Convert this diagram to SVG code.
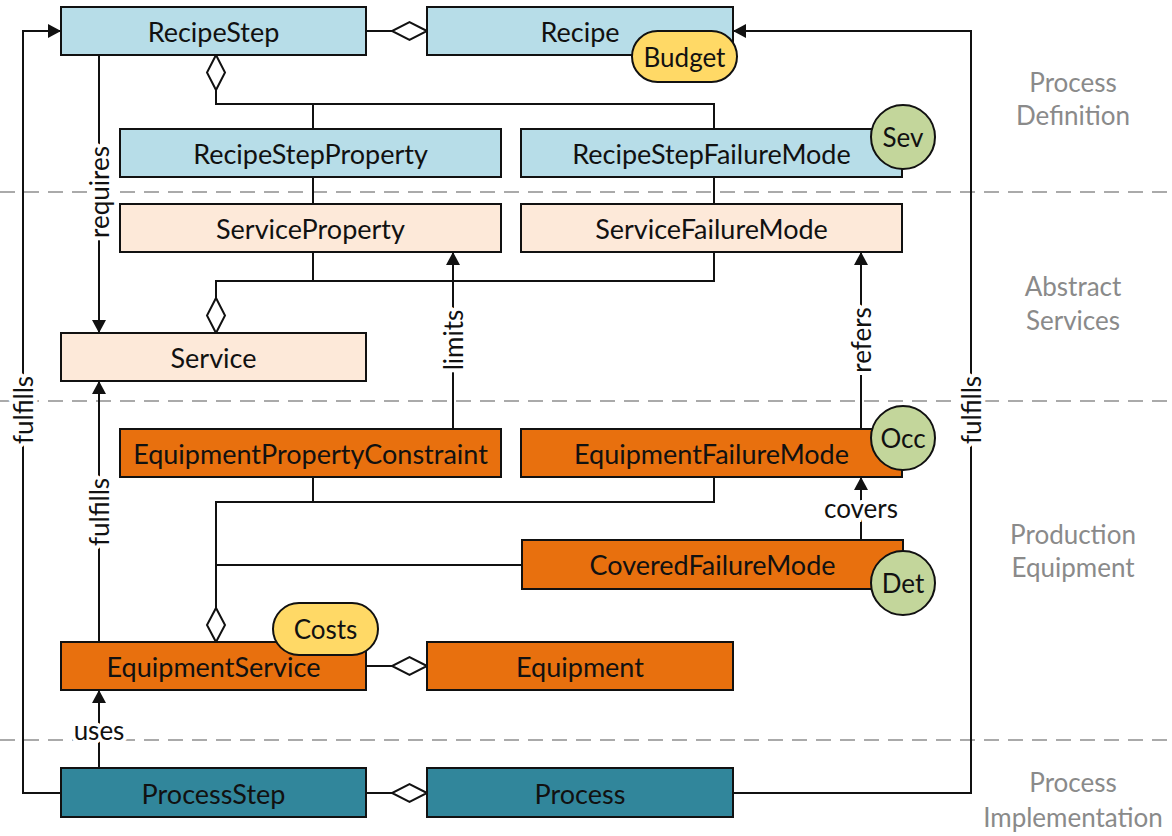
<svg xmlns="http://www.w3.org/2000/svg" width="1172" height="836" viewBox="0 0 1172 836">
<style>
  text { font-family: Lato, "Liberation Sans", sans-serif; font-size: 26px; fill: #111; text-anchor: middle; dominant-baseline: central; }
  .n { font-size: 27px; }
  .box { stroke: #111; stroke-width: 2; }
  .pd { fill: #b7dde8; }
  .as { fill: #fde9d9; }
  .pe { fill: #e8700e; }
  .pi { fill: #31869b; }
  .badge { fill: #c3d69b; stroke: #111; stroke-width: 2; }
  .pill { fill: #ffd966; stroke: #111; stroke-width: 2; }
  .ln { fill: none; stroke: #111; stroke-width: 2; }
  .dia { fill: #fff; stroke: #111; stroke-width: 2; }
  .lbl { stroke: #fff; stroke-width: 8; paint-order: stroke; }
  .lane { stroke: #aaa; stroke-width: 2; stroke-dasharray: 15 9; }
  .lanetxt { fill: #8a8a8a; }
</style>
<defs>
  <marker id="arr" markerUnits="userSpaceOnUse" markerWidth="14" markerHeight="14" refX="13" refY="7" orient="auto">
    <path d="M0,0 L13,7 L0,14 Z" fill="#111"/>
  </marker>
</defs>
<rect width="1172" height="836" fill="#fff"/>

<g id="lanes">
  <line class="lane" x1="0" y1="192" x2="1172" y2="192"/>
  <line class="lane" x1="0" y1="401" x2="1172" y2="401"/>
  <line class="lane" x1="0" y1="740" x2="1172" y2="740"/>
  <text class="lanetxt" x="1073" y="82">Process</text>
  <text class="lanetxt" x="1073" y="115">Definition</text>
  <text class="lanetxt" x="1073" y="286">Abstract</text>
  <text class="lanetxt" x="1073" y="320">Services</text>
  <text class="lanetxt" x="1073" y="534">Production</text>
  <text class="lanetxt" x="1073" y="567">Equipment</text>
  <text class="lanetxt" x="1073" y="782">Process</text>
  <text class="lanetxt" x="1073" y="817">Implementation</text>
</g>

<g id="connectors">
  <line class="ln" x1="366" y1="31" x2="392" y2="31"/>
  <path class="dia" d="M427,31 L409.5,22 L392,31 L409.5,40 Z"/>
  <polyline class="ln" points="216,90 216,104 714,104 714,203"/>
  <line class="ln" x1="313" y1="104" x2="313" y2="203"/>
  <path class="dia" d="M216,55 L225,72.5 L216,90 L207,72.5 Z"/>
  <polyline class="ln" points="216,298 216,281 714,281 714,252"/>
  <line class="ln" x1="313" y1="252" x2="313" y2="281"/>
  <path class="dia" d="M216,333 L225,315.5 L216,298 L207,315.5 Z"/>
  <line class="ln" x1="99" y1="55" x2="99" y2="333" marker-end="url(#arr)"/>
  <text class="lbl" transform="translate(99,192) rotate(-90)">requires</text>
  <line class="ln" x1="99" y1="642" x2="99" y2="381" marker-end="url(#arr)"/>
  <text class="lbl" transform="translate(99,512) rotate(-90)">fulfills</text>
  <line class="ln" x1="453" y1="429" x2="453" y2="252" marker-end="url(#arr)"/>
  <text class="lbl" transform="translate(453,340) rotate(-90)">limits</text>
  <line class="ln" x1="861" y1="429" x2="861" y2="252" marker-end="url(#arr)"/>
  <text class="lbl" transform="translate(861,340) rotate(-90)">refers</text>
  <polyline class="ln" points="61,793 23,793 23,31 61,31" marker-end="url(#arr)"/>
  <text class="lbl" transform="translate(23,410) rotate(-90)">fulfills</text>
  <polyline class="ln" points="733,793 971,793 971,31 733,31" marker-end="url(#arr)"/>
  <text class="lbl" transform="translate(971,410) rotate(-90)">fulfills</text>
  <polyline class="ln" points="216,608 216,502 714,502 714,477"/>
  <line class="ln" x1="313" y1="477" x2="313" y2="502"/>
  <line class="ln" x1="216" y1="565" x2="522" y2="565"/>
  <path class="dia" d="M216,642 L225,625 L216,608 L207,625 Z"/>
  <line class="ln" x1="861" y1="540" x2="861" y2="477" marker-end="url(#arr)"/>
  <text class="lbl" x="861" y="508">covers</text>
  <line class="ln" x1="366" y1="666" x2="392" y2="666"/>
  <path class="dia" d="M427,666 L409.5,657 L392,666 L409.5,675 Z"/>
  <line class="ln" x1="99" y1="768" x2="99" y2="690" marker-end="url(#arr)"/>
  <text class="lbl" x="99" y="730">uses</text>
  <line class="ln" x1="366" y1="793" x2="392" y2="793"/>
  <path class="dia" d="M427,793 L409.5,784 L392,793 L409.5,802 Z"/>
</g>

<g id="RecipeStep"><rect class="box pd" x="61" y="7" width="305" height="48"/><text class="n" x="213.5" y="31">RecipeStep</text></g>
<g id="Recipe"><rect class="box pd" x="427" y="7" width="306" height="48"/><text class="n" x="580" y="31">Recipe</text>
  <rect class="pill" x="632" y="31" width="105" height="51" rx="25.5"/><text x="684.5" y="56.5">Budget</text></g>
<g id="RecipeStepProperty"><rect class="box pd" x="120" y="129" width="381" height="48"/><text class="n" x="310.5" y="153">RecipeStepProperty</text></g>
<g id="RecipeStepFailureMode"><rect class="box pd" x="521" y="129" width="381" height="48"/><text class="n" x="711.5" y="153">RecipeStepFailureMode</text>
  <circle class="badge" cx="903" cy="137" r="32"/><text x="903" y="137">Sev</text></g>
<g id="ServiceProperty"><rect class="box as" x="120" y="204" width="381" height="48"/><text class="n" x="310.5" y="228">ServiceProperty</text></g>
<g id="ServiceFailureMode"><rect class="box as" x="521" y="204" width="381" height="48"/><text class="n" x="711.5" y="228">ServiceFailureMode</text></g>
<g id="Service"><rect class="box as" x="61" y="333" width="305" height="48"/><text class="n" x="213.5" y="357">Service</text></g>
<g id="EquipmentPropertyConstraint"><rect class="box pe" x="120" y="429" width="381" height="48"/><text class="n" x="310.5" y="453">EquipmentPropertyConstraint</text></g>
<g id="EquipmentFailureMode"><rect class="box pe" x="521" y="429" width="381" height="48"/><text class="n" x="711.5" y="453">EquipmentFailureMode</text>
  <circle class="badge" cx="903" cy="438" r="32"/><text x="903" y="438">Occ</text></g>
<g id="CoveredFailureMode"><rect class="box pe" x="522" y="540" width="381" height="49"/><text class="n" x="712.5" y="564">CoveredFailureMode</text>
  <circle class="badge" cx="903" cy="583" r="32"/><text x="903" y="583">Det</text></g>
<g id="EquipmentService"><rect class="box pe" x="61" y="642" width="305" height="48"/><text class="n" x="213.5" y="666">EquipmentService</text>
  <rect class="pill" x="273" y="603" width="105" height="52" rx="26"/><text x="325.5" y="629">Costs</text></g>
<g id="Equipment"><rect class="box pe" x="427" y="642" width="306" height="48"/><text class="n" x="580" y="666">Equipment</text></g>
<g id="ProcessStep"><rect class="box pi" x="61" y="768" width="305" height="49"/><text class="n" x="213.5" y="793">ProcessStep</text></g>
<g id="Process"><rect class="box pi" x="427" y="768" width="306" height="49"/><text class="n" x="580" y="793">Process</text></g>
</svg>
